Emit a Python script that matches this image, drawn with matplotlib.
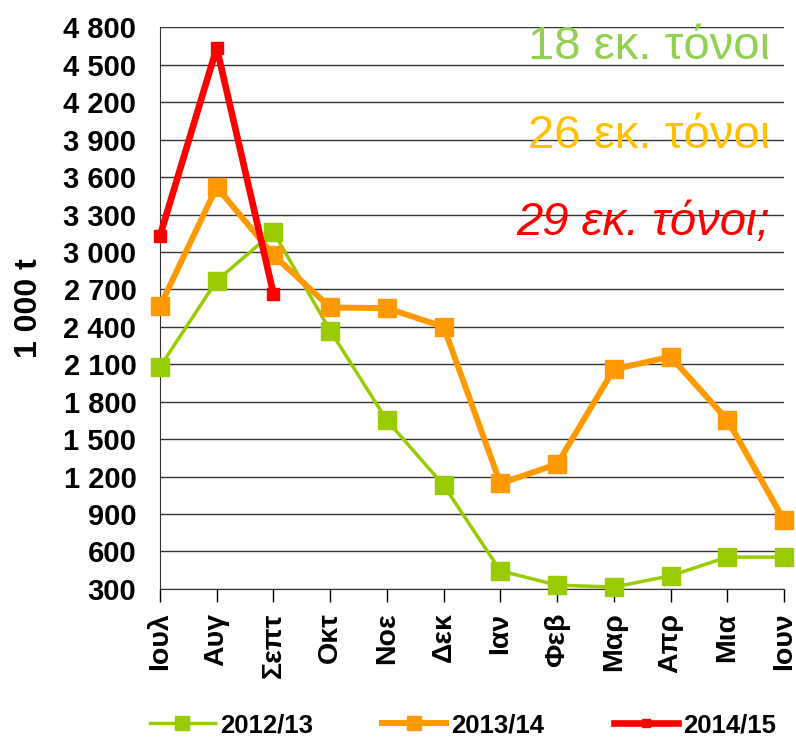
import matplotlib
matplotlib.use("Agg")
import matplotlib.pyplot as plt
from matplotlib.ticker import FuncFormatter

months = ["Ιουλ", "Αυγ", "Σεπτ", "Οκτ", "Νοε", "Δεκ", "Ιαν", "Φεβ", "Μαρ", "Απρ", "Μια", "Ιουν"]
s2012 = [2080, 2770, 3160, 2370, 1650, 1130, 445, 330, 315, 405, 555, 555]
s2013 = [2565, 3520, 2975, 2555, 2550, 2400, 1145, 1300, 2060, 2160, 1655, 850]
s2014 = [3130, 4635, 2665]
yticks = list(range(300, 4801, 300))

plt.rcParams['font.family'] = ['Liberation Sans', 'DejaVu Sans']

fig = plt.figure(figsize=(7.96, 7.38), dpi=100)
ax = fig.add_axes([0.201, 0.202, 0.784, 0.761])

x = list(range(len(months)))
ax.plot(x, s2012, color="#99CC00", lw=2.5, marker="s", ms=12.5, label="2012/13", clip_on=False, zorder=3)
ax.plot(x, s2013, color="#FF9900", lw=4.3, marker="s", ms=12.5, label="2013/14", clip_on=False, zorder=4)
ax.plot(x[:len(s2014)], s2014, color="#FF0000", lw=4.8, marker="s", ms=8.5, label="2014/15", clip_on=False, zorder=5)

ax.set_xlim(0, len(months) - 1)
ax.set_ylim(300, 4800)
ax.set_yticks(yticks)
ax.yaxis.set_major_formatter(FuncFormatter(lambda v, p: f"{int(v):,}".replace(",", " ")))
ax.set_xticks(x)
ax.set_xticklabels(months, rotation=90, fontsize=20.5, fontweight="bold")
for lbl in ax.get_yticklabels():
    lbl.set_fontsize(21)
    lbl.set_fontweight("bold")
ax.tick_params(axis="y", length=0, pad=17)
ax.tick_params(axis="x", direction="out", length=9, width=1, pad=8)
ax.grid(axis="y", color="#333333", lw=1)
ax.set_axisbelow(True)
for side in ["top", "right"]:
    ax.spines[side].set_visible(False)
ax.spines["left"].set_color("#333333")
ax.spines["bottom"].set_color("#333333")
ax.set_ylabel("1 000 t", fontsize=23, fontweight="bold", labelpad=14)

fig.text(0.967, 0.936, "18 εκ. τόνοι", color="#92D050", fontsize=34, ha="right", va="center")
fig.text(0.967, 0.816, "26 εκ. τόνοι", color="#FFC000", fontsize=34, ha="right", va="center")
fig.text(0.967, 0.698, "29 εκ. τόνοι;", color="#FF0000", fontsize=34, style="italic", ha="right", va="center")

leg = fig.legend(loc="lower center", bbox_to_anchor=(0.582, -0.03), ncol=3, frameon=False,
                 handlelength=2.5, columnspacing=2.7, handletextpad=0.2,
                 prop={"size": 18.5, "weight": "bold"}, markerscale=0.75)

fig.savefig("out.png", dpi=100)
